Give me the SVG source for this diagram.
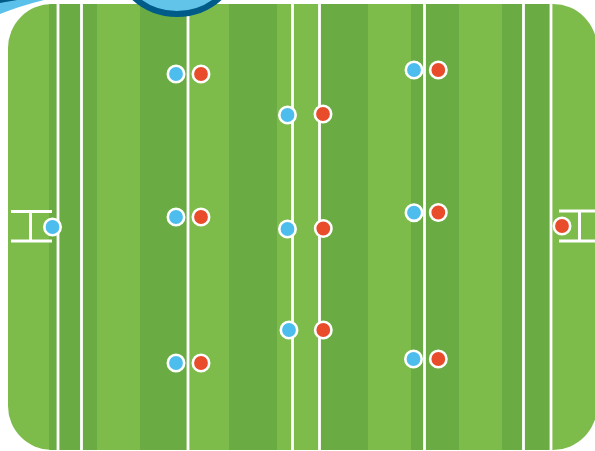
<svg xmlns="http://www.w3.org/2000/svg" width="595" height="451" viewBox="0 0 595 451">
  <defs>
    <style>
      .light { fill: #7dbb4a; }
      .dark { fill: #6aac43; }
      .line { stroke: #ffffff; stroke-width: 2.8; fill: none; }
      .goal { stroke: #ffffff; stroke-width: 3; fill: none; }
      .blue { fill: #4dbdee; stroke: #ffffff; stroke-width: 2.6; }
      .red { fill: #e84c2b; stroke: #ffffff; stroke-width: 2.6; }
    </style>
    <clipPath id="fieldClip">
      <rect x="8" y="4" width="589" height="446" rx="44" ry="44"/>
    </clipPath>
  </defs>
  <rect width="595" height="451" fill="#ffffff"/>

  <g id="field" clip-path="url(#fieldClip)">
    <rect class="light" x="8" y="4" width="589" height="446"/>
    <rect class="dark" x="49" y="4" width="48" height="446"/>
    <rect class="dark" x="140" y="4" width="47" height="446"/>
    <rect class="dark" x="229" y="4" width="48" height="446"/>
    <rect class="dark" x="321" y="4" width="47" height="446"/>
    <rect class="dark" x="411" y="4" width="48" height="446"/>
    <rect class="dark" x="502" y="4" width="48" height="446"/>
    <g id="field-lines">
      <line class="line" x1="58" y1="0" x2="58" y2="451"/>
      <line class="line" x1="81.5" y1="0" x2="81.5" y2="451"/>
      <line class="line" x1="188" y1="0" x2="188" y2="451"/>
      <line class="line" x1="292.5" y1="0" x2="292.5" y2="451"/>
      <line class="line" x1="319.5" y1="0" x2="319.5" y2="451"/>
      <line class="line" x1="424.5" y1="0" x2="424.5" y2="451"/>
      <line class="line" x1="523.5" y1="0" x2="523.5" y2="451"/>
      <line class="line" x1="551" y1="0" x2="551" y2="451"/>
    </g>
  </g>

  <g id="top-decoration">
    <path d="M0,0 L22,0 L0,3.5 Z" fill="#005b88"/>
    <path d="M0,3 Q22,-1 50,-5 L44,0 Q20,6 0,14 Z" fill="#5cc1ea"/>
    <circle cx="177" cy="-50" r="64" fill="#63c4e9" stroke="#005b88" stroke-width="6"/>
  </g>

  <g id="goal-left">
    <line class="goal" x1="11" y1="211.5" x2="52" y2="211.5"/>
    <line class="goal" x1="11" y1="241" x2="52" y2="241"/>
    <line class="goal" x1="30.5" y1="211.5" x2="30.5" y2="241"/>
  </g>
  <g id="goal-right">
    <line class="goal" x1="559" y1="211" x2="597" y2="211"/>
    <line class="goal" x1="559" y1="241" x2="597" y2="241"/>
    <line class="goal" x1="579.5" y1="211" x2="579.5" y2="241"/>
  </g>

  <g id="player-blue-goal"><circle class="blue" cx="52.5" cy="227" r="8.2"/></g>
  <g id="player-red-goal"><circle class="red" cx="562" cy="226" r="8.2"/></g>

  <g id="player-b1"><circle class="blue" cx="176" cy="74" r="8.2"/></g>
  <g id="player-r1"><circle class="red" cx="201" cy="74" r="8.2"/></g>
  <g id="player-b2"><circle class="blue" cx="176" cy="217" r="8.2"/></g>
  <g id="player-r2"><circle class="red" cx="201" cy="217" r="8.2"/></g>
  <g id="player-b3"><circle class="blue" cx="176" cy="363" r="8.2"/></g>
  <g id="player-r3"><circle class="red" cx="201" cy="363" r="8.2"/></g>

  <g id="player-b4"><circle class="blue" cx="287.5" cy="115" r="8.2"/></g>
  <g id="player-r4"><circle class="red" cx="323" cy="114" r="8.2"/></g>
  <g id="player-b5"><circle class="blue" cx="287.5" cy="229" r="8.2"/></g>
  <g id="player-r5"><circle class="red" cx="323.3" cy="228.5" r="8.2"/></g>
  <g id="player-b6"><circle class="blue" cx="289" cy="330" r="8.2"/></g>
  <g id="player-r6"><circle class="red" cx="323.3" cy="330" r="8.2"/></g>

  <g id="player-b7"><circle class="blue" cx="414" cy="70" r="8.2"/></g>
  <g id="player-r7"><circle class="red" cx="438.3" cy="70" r="8.2"/></g>
  <g id="player-b8"><circle class="blue" cx="414" cy="212.7" r="8.2"/></g>
  <g id="player-r8"><circle class="red" cx="438.3" cy="212.5" r="8.2"/></g>
  <g id="player-b9"><circle class="blue" cx="413.5" cy="359" r="8.2"/></g>
  <g id="player-r9"><circle class="red" cx="438.3" cy="359" r="8.2"/></g>
</svg>
